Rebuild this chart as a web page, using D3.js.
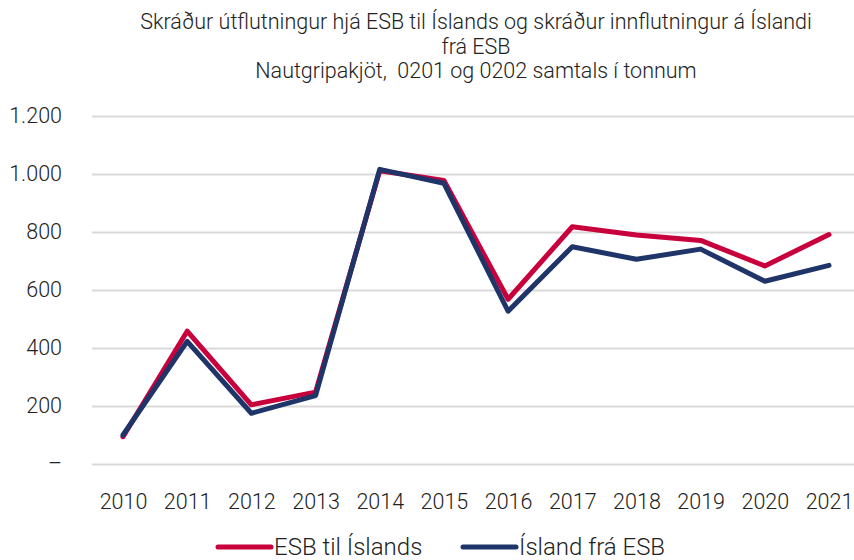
<!DOCTYPE html>
<meta charset="utf-8">
<style>
  body { margin: 0; background: #fff; }
  svg text { font-family: Roboto, "Open Sans", sans-serif; font-weight: 300; fill: #222; }
</style>
<body>
<div id="chart"></div>
<script src="https://d3js.org/d3.v7.min.js"></script>
<script>
// ——— data ———
const years = ["2010","2011","2012","2013","2014","2015","2016","2017","2018","2019","2020","2021"];
const esbTilIslands = [94, 458, 204, 248, 1011, 978, 568, 818, 790, 771, 683, 791];
const islandFraEsb  = [100, 423, 175, 236, 1016, 968, 527, 749, 706, 741, 630, 685];
const yTicks = [0, 200, 400, 600, 800, 1000, 1200];
const titleLines = [
  "Skráður útflutningur hjá ESB til Íslands og skráður innflutningur á Íslandi",
  "frá ESB",
  "Nautgripakjöt,  0201 og 0202 samtals í tonnum"
];
const series = [
  { name: "ESB til Íslands", values: esbTilIslands, color: "#C8003C" },
  { name: "Ísland frá ESB",  values: islandFraEsb,  color: "#1F3468" }
];

const width = 854, height = 560;
const svg = d3.select("#chart").append("svg")
    .attr("width", width)
    .attr("height", height);

const x = d3.scalePoint().domain(years).range([123, 829]);
const y = d3.scaleLinear().domain([0, 1200]).range([464, 116]);

// title
svg.append("g").selectAll("text")
  .data(titleLines)
  .join("text")
    .attr("x", 476)
    .attr("y", (d, i) => 29 + i * 24.5)
    .attr("text-anchor", "middle")
    .style("font-size", "21.5px")
    .style("white-space", "pre")
    .text(d => d);

// gridlines + y labels
const fmt = d => d === 0 ? "–" : d3.format(",")(d).replace(/,/g, ".");
svg.append("g")
    .attr("transform", "translate(92,0)")
    .call(d3.axisLeft(y).tickValues(yTicks).tickSize(-763).tickPadding(30).tickFormat(fmt))
    .call(g => g.select(".domain").remove())
    .call(g => g.selectAll(".tick line").attr("stroke", "#d9d9d9").attr("stroke-width", 2))
    .call(g => g.selectAll(".tick text").style("font-size", "21.5px").attr("fill", "#222"));

// x labels
svg.append("g")
    .attr("transform", "translate(0,464)")
    .call(d3.axisBottom(x).tickSize(0).tickPadding(30))
    .call(g => g.select(".domain").remove())
    .call(g => g.selectAll(".tick text").style("font-size", "21.5px").attr("fill", "#222"));

// lines
const line = d3.line().x((d, i) => x(years[i])).y(d => y(d));
svg.append("g").selectAll("path")
  .data(series)
  .join("path")
    .attr("d", d => line(d.values))
    .attr("fill", "none")
    .attr("stroke", d => d.color)
    .attr("stroke-width", 5)
    .attr("stroke-linejoin", "round")
    .attr("stroke-linecap", "round");

// legend
const legendX = [218, 463];
const leg = svg.append("g").selectAll("g")
  .data(series)
  .join("g")
    .attr("transform", (d, i) => `translate(${legendX[i]},547)`);
leg.append("line")
    .attr("x1", 0).attr("x2", 53)
    .attr("stroke", d => d.color)
    .attr("stroke-width", 5)
    .attr("stroke-linecap", "round");
leg.append("text")
    .attr("x", 56)
    .attr("dy", "0.35em")
    .style("font-size", "24px")
    .text(d => d.name);
</script>
</body>
